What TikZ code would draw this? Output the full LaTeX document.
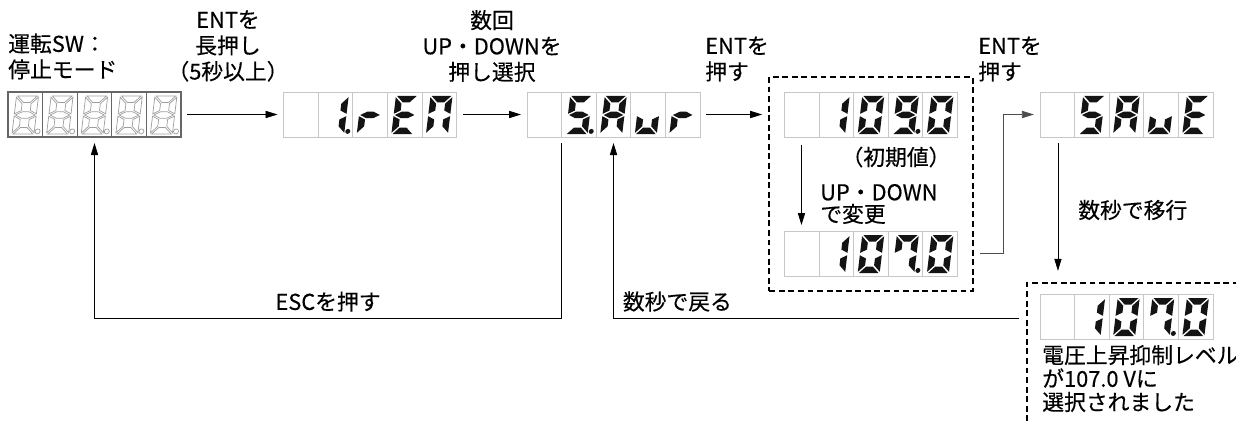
\documentclass[tikz,border=0pt]{standalone}
\usepackage{fontspec}
\setmainfont{Noto Sans CJK JP}[FakeBold=0.35]
\usetikzlibrary{positioning, arrows.meta, fit}

% 7セグメントの各セグメント (幅22, 高さ38)
\newcommand\segA[1]{\path[#1] (1.2,-38) -- (20.8,-38) -- (14.3,-31.5) -- (7.7,-31.5) -- cycle;}
\newcommand\segB[1]{\path[#1] (22,-36.8) -- (15.5,-30.3) -- (15.5,-23.45) -- (22,-20.2) -- cycle;}
\newcommand\segC[1]{\path[#1] (22,-1.2) -- (15.5,-7.7) -- (15.5,-14.55) -- (22,-17.8) -- cycle;}
\newcommand\segD[1]{\path[#1] (1.2,0) -- (20.8,0) -- (14.3,-6.5) -- (7.7,-6.5) -- cycle;}
\newcommand\segE[1]{\path[#1] (0,-1.2) -- (6.5,-7.7) -- (6.5,-14.55) -- (0,-17.8) -- cycle;}
\newcommand\segF[1]{\path[#1] (0,-36.8) -- (6.5,-30.3) -- (6.5,-23.45) -- (0,-20.2) -- cycle;}
\newcommand\segG[1]{\path[#1] (1.2,-19) -- (7.7,-22.25) -- (14.3,-22.25) -- (20.8,-19) -- (14.3,-15.75) -- (7.7,-15.75) -- cycle;}
\newcommand\segP[1]{\path[#1] (25.3,-2.6) circle[radius=2.5];}

% 表示器の1桁: [スタイル]{ノード}{桁番号}{セグメント}
\newcommand\segdigit[4][segon]{%
  \begin{scope}[shift={(#2.north west)}, shift={({34.6*#3+4},42)}, xslant=0.12]
    \foreach \s in {#4}{\csname seg\s\endcsname{#1}}
  \end{scope}}
% 表示器の枠 (5桁)
\newcommand\segcells[2][cellbox]{%
  \foreach \i in {0,...,4}
    \draw[#1] ([shift={({34.6*\i},0)}]#2.north west) rectangle ++(34.6,45);}

\tikzset{
  disp/.style={minimum width=4.325cm, minimum height=1.125cm, inner sep=0pt, outer sep=0pt},
  cellbox/.style={draw=black!22, line width=0.6pt},
  cellbox dark/.style={draw=black!60, line width=0.8pt},
  segon/.style={fill=black!92},
  segoff/.style={draw=black!38, line width=0.5pt},
  arr/.style={-{Triangle[length=0.3cm,width=0.18cm]}, line width=0.55pt, shorten <=0.16cm, shorten >=0.15cm},
  dashbox/.style={draw, dash pattern=on 4.2pt off 2.6pt, line width=1.5pt, inner sep=0.38cm},
  lbl/.style={font=\fontsize{15.5}{18.4}\selectfont, inner sep=0pt},
}

\begin{document}
\begin{tikzpicture}[x=0.025cm, y=-0.025cm]
   \useasboundingbox (0,0) rectangle (1236,423);

   % 表示器
   \node[disp] (stop) at (94.5,114.5) {};
   \node[disp, right=2.5625cm of stop] (iren) {};
   \node[disp, right=1.76cm of iren] (savr) {};
   \node[disp, right=2.11cm of savr] (v109) {};
   \node[disp, below=2.35cm of v109] (v107) {};
   \node[disp, right=2.06cm of v109] (save) {};
   \node[disp, below=3.925cm of save] (vdone) {};

   % 破線の枠
   \node[dashbox, fit=(v109)(v107)] (editbox) {};
   \node[dashbox, inner sep=0pt, fit={([shift={(-13,-11)}]vdone.north west) (1260,440)}] (donebox) {};

   % 枠と数字
   \segcells[cellbox dark]{stop}
   \foreach \i in {0,...,4} {\segdigit[segoff]{stop}{\i}{A,B,C,D,E,F,G,P}}
   \foreach \n in {iren,savr,v109,v107,save,vdone} {\segcells{\n}}
   % 1.rEN
   \segdigit{iren}{1}{B,C,P} \segdigit{iren}{2}{E,G}
   \segdigit{iren}{3}{A,D,E,F,G} \segdigit{iren}{4}{A,B,C,E,F}
   % 5.Aur
   \segdigit{savr}{1}{A,C,D,F,G,P} \segdigit{savr}{2}{A,B,C,E,F,G}
   \segdigit{savr}{3}{C,D,E} \segdigit{savr}{4}{E,G}
   % 109.0
   \segdigit{v109}{1}{B,C} \segdigit{v109}{2}{A,B,C,D,E,F}
   \segdigit{v109}{3}{A,B,C,D,F,G,P} \segdigit{v109}{4}{A,B,C,D,E,F}
   % 107.0
   \foreach \n in {v107,vdone} {
     \segdigit{\n}{1}{B,C} \segdigit{\n}{2}{A,B,C,D,E,F}
     \segdigit{\n}{3}{A,B,C,F,P} \segdigit{\n}{4}{A,B,C,D,E,F}}
   % SAuE
   \segdigit{save}{1}{A,C,D,F,G} \segdigit{save}{2}{A,B,C,E,F,G}
   \segdigit{save}{3}{C,D,E} \segdigit{save}{4}{A,D,E,F,G}

   % 説明文
   \node[lbl, align=left, anchor=west] (stoptxt) at (8,56.5) {運転SW：\\停止モード};
   \node[lbl, align=center] (presstxt) at (228,46) {ENTを\\長押し\\（5秒以上）};
   \node[lbl, align=center] (seltxt) at (492,46) {数回\\UP・DOWNを\\押し選択};
   \node[lbl, align=left, anchor=west] (enttxt) at (705,59) {ENTを\\押す};
   \node[lbl, align=left, anchor=west] (enttxt2) at (978,59) {ENTを\\押す};
   \node[lbl] (inittxt) at (896,157) {（初期値）};
   \node[lbl, align=left, anchor=west, font=\fontsize{15.5}{15.6}\selectfont] (updntxt) at (820,204) {UP・DOWN\\で変更};
   \node[lbl, anchor=west] (movetxt) at (1078,210) {数秒で移行};
   \node[lbl, align=left, anchor=west, font=\fontsize{15.5}{16.7}\selectfont] (donetxt) at (1042,378.5)
     {電圧上昇抑制レベル\\が107.0 Vに\\選択されました};

   % 矢印
   \coordinate (retrow) at (0,318);
   \coordinate (savedn) at ([shift={(18,0)}]save.south west);
   \path[arr]
    (stop) edge (iren)
    (iren) edge (savr);
   \draw[arr] (savr.east) -- (savr.east -| editbox.west);
   \draw[arr, shorten <=0.2cm] ([shift={(17,0)}]v109.south west) -- ([shift={(17,0)}]v107.north west);
   \draw[arr, draw=black!70] (v107.east -| editbox.east) -- ++(30,0) |- (save.west);
   \draw[arr, shorten >=0.28cm] (savedn) -- (savedn |- donebox.north);
   % 戻り
   \draw[arr] ([shift={(34.6,0)}]savr.south west) |- node[lbl, pos=0.75, above=0.15cm] (esctxt) {ESCを押す}
     (retrow -| stop.south) -- (stop.south);
   \draw[arr] (donebox.west |- retrow) -| node[lbl, pos=0.5, anchor=south west, shift={(9,-6)}] (backtxt) {数秒で戻る}
     ([shift={(86.5,0)}]savr.south west);
\end{tikzpicture}
\end{document}
